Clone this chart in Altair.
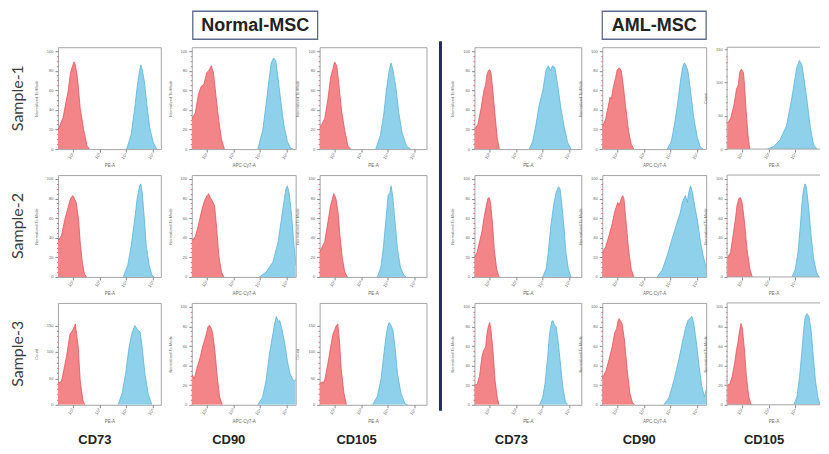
import altair as alt
import pandas as pd

# ---------------- data ----------------
# x = log10 fluorescence intensity, y = % of mode (or cell count)
N1_CD73_NEG = [(1.45,19),(1.64,32),(1.83,59),(1.92,78),(2.00,85),(2.05,89),(2.10,86),(2.18,73),(2.28,42),(2.41,20),(2.54,3),(2.63,0)]
N1_CD73_POS = [(4.02,0),(4.19,15),(4.32,42),(4.41,63),(4.50,80),(4.55,86),(4.60,81),(4.68,69),(4.78,44),(4.88,22),(5.01,7),(5.14,0)]
N1_CD90_NEG = [(1.45,30),(1.58,37),(1.70,56),(1.80,64),(1.90,66),(2.01,78),(2.08,80),(2.18,85),(2.26,78),(2.36,53),(2.46,29),(2.56,10),(2.67,0)]
N1_CD90_POS = [(3.92,0),(4.10,19),(4.23,46),(4.33,69),(4.42,88),(4.51,93),(4.59,90),(4.66,76),(4.76,53),(4.89,25),(5.02,8),(5.14,1),(5.24,0)]
N1_CD105_NEG = [(1.45,21),(1.64,31),(1.76,51),(1.86,73),(1.94,81),(2.01,89),(2.09,85),(2.17,66),(2.27,39),(2.39,19),(2.51,3),(2.61,0)]
N1_CD105_POS = [(3.55,0),(3.72,14),(3.85,36),(3.94,59),(4.05,80),(4.12,88),(4.19,81),(4.30,63),(4.41,37),(4.53,17),(4.70,3),(4.85,0)]

N2_CD73_NEG = [(1.45,37),(1.58,42),(1.71,59),(1.83,71),(1.92,80),(2.00,83),(2.05,81),(2.13,76),(2.22,59),(2.28,36),(2.36,15),(2.44,3),(2.52,0)]
N2_CD73_POS = [(3.89,0),(4.06,12),(4.19,32),(4.32,59),(4.41,80),(4.50,93),(4.55,95),(4.60,86),(4.68,59),(4.75,32),(4.86,12),(4.96,2),(5.05,0)]
N2_CD90_NEG = [(1.45,37),(1.58,41),(1.70,53),(1.83,69),(1.93,78),(2.02,83),(2.08,85),(2.14,81),(2.21,78),(2.30,73),(2.37,53),(2.46,22),(2.56,5),(2.65,0)]
N2_CD90_POS = [(3.98,0),(4.23,5),(4.48,15),(4.68,36),(4.80,59),(4.89,76),(4.97,90),(5.02,93),(5.09,86),(5.18,63),(5.27,32),(5.35,12),(5.37,30)]
N2_CD105_NEG = [(1.45,25),(1.64,36),(1.76,56),(1.86,73),(1.94,81),(1.98,85),(2.06,80),(2.14,66),(2.21,42),(2.30,19),(2.39,5),(2.49,0)]
N2_CD105_POS = [(3.61,0),(3.74,10),(3.84,32),(3.93,59),(4.01,83),(4.08,86),(4.12,93),(4.18,83),(4.27,56),(4.36,29),(4.47,10),(4.59,2),(4.68,0)]

N3_CD73_NEG = [(1.45,41),(1.58,44),(1.77,91),(1.90,134),(2.00,141),(2.10,153),(2.21,109),(2.28,47),(2.38,9),(2.45,0)]
N3_CD73_POS = [(3.70,0),(3.85,22),(3.98,59),(4.11,109),(4.21,134),(4.32,150),(4.37,147),(4.44,141),(4.52,138),(4.60,109),(4.70,59),(4.83,19),(4.96,0)]
N3_CD90_NEG = [(1.45,31),(1.55,27),(1.64,37),(1.77,49),(1.85,59),(1.93,66),(2.00,73),(2.06,80),(2.12,81),(2.18,78),(2.23,73),(2.31,56),(2.40,29),(2.49,8),(2.59,0)]
N3_CD90_POS = [(3.92,0),(4.10,8),(4.23,25),(4.36,53),(4.46,69),(4.55,83),(4.61,90),(4.68,85),(4.74,86),(4.83,76),(4.93,62),(5.02,45),(5.12,32),(5.22,26),(5.30,24),(5.37,28)]
N3_CD105_NEG = [(1.45,41),(1.63,44),(1.76,78),(1.86,109),(1.95,134),(2.01,141),(2.07,150),(2.13,153),(2.19,122),(2.26,66),(2.36,22),(2.45,0)]
N3_CD105_POS = [(3.43,0),(3.61,16),(3.74,47),(3.84,91),(3.93,128),(3.99,147),(4.05,156),(4.12,150),(4.19,141),(4.27,109),(4.36,59),(4.49,22),(4.64,2),(4.74,0)]

A1_CD73_NEG = [(1.45,20),(1.58,25),(1.70,42),(1.80,59),(1.87,66),(1.92,76),(1.97,80),(2.02,81),(2.07,78),(2.14,59),(2.23,32),(2.30,12),(2.38,0)]
A1_CD73_POS = [(3.50,0),(3.63,8),(3.75,25),(3.88,46),(4.00,59),(4.13,81),(4.21,85),(4.29,80),(4.37,85),(4.46,83),(4.56,66),(4.68,42),(4.81,22),(4.93,7),(5.06,0)]
A1_CD90_NEG = [(1.45,22),(1.58,31),(1.66,42),(1.74,53),(1.79,51),(1.86,63),(1.95,73),(2.01,81),(2.09,83),(2.16,80),(2.23,66),(2.33,42),(2.43,19),(2.53,5),(2.63,0)]
A1_CD90_POS = [(3.88,0),(4.03,8),(4.15,25),(4.28,49),(4.37,69),(4.45,83),(4.52,88),(4.57,86),(4.65,80),(4.75,59),(4.87,32),(5.00,12),(5.12,2),(5.22,0)]
A1_CD105_NEG = [(1.45,37),(1.59,47),(1.71,67),(1.80,90),(1.87,97),(1.92,115),(1.98,120),(2.06,115),(2.10,97),(2.16,57),(2.25,12),(2.30,0)]
A1_CD105_POS = [(2.95,0),(3.20,4),(3.43,14),(3.67,35),(3.85,72),(3.97,102),(4.05,122),(4.15,133),(4.24,127),(4.32,107),(4.44,72),(4.56,32),(4.68,7),(4.80,0)]

A2_CD73_NEG = [(1.45,20),(1.55,25),(1.64,36),(1.73,46),(1.80,59),(1.87,69),(1.95,80),(2.00,81),(2.05,76),(2.12,56),(2.19,29),(2.28,8),(2.37,0)]
A2_CD73_POS = [(4.00,0),(4.13,8),(4.21,25),(4.31,53),(4.41,73),(4.50,86),(4.59,92),(4.65,90),(4.71,76),(4.79,53),(4.87,25),(4.96,8),(5.06,0)]
A2_CD90_NEG = [(1.45,24),(1.58,31),(1.70,42),(1.82,54),(1.91,66),(1.99,73),(2.03,76),(2.08,73),(2.16,80),(2.21,83),(2.26,80),(2.33,59),(2.43,29),(2.53,8),(2.63,0)]
A2_CD90_POS = [(3.50,0),(3.69,7),(3.88,22),(4.06,39),(4.25,56),(4.37,66),(4.44,76),(4.50,80),(4.56,83),(4.63,76),(4.68,86),(4.75,93),(4.82,86),(4.90,73),(5.00,59),(5.12,36),(5.24,19),(5.35,8),(5.37,8)]
A2_CD105_NEG = [(1.45,19),(1.58,25),(1.67,42),(1.76,59),(1.82,73),(1.89,80),(1.95,81),(2.01,76),(2.10,56),(2.19,29),(2.30,8),(2.39,0)]
A2_CD105_POS = [(3.88,0),(4.00,8),(4.10,25),(4.19,53),(4.25,76),(4.31,90),(4.36,95),(4.41,92),(4.49,73),(4.59,42),(4.68,19),(4.79,5),(4.88,0)]

A3_CD73_NEG = [(1.45,20),(1.55,21),(1.64,29),(1.73,49),(1.80,56),(1.87,59),(1.92,73),(1.97,80),(2.02,84),(2.07,76),(2.15,53),(2.22,25),(2.30,8),(2.37,0)]
A3_CD73_POS = [(3.88,0),(4.00,7),(4.09,22),(4.19,49),(4.26,73),(4.34,85),(4.39,86),(4.44,81),(4.50,80),(4.56,69),(4.65,46),(4.75,19),(4.85,3),(4.93,0)]
A3_CD90_NEG = [(1.45,27),(1.58,34),(1.70,46),(1.82,59),(1.91,73),(1.99,78),(2.03,85),(2.08,88),(2.14,85),(2.19,83),(2.28,66),(2.38,36),(2.48,12),(2.58,2),(2.66,0)]
A3_CD90_POS = [(3.75,0),(3.94,7),(4.13,25),(4.31,46),(4.44,63),(4.56,78),(4.65,86),(4.72,88),(4.80,90),(4.87,83),(4.97,63),(5.07,39),(5.17,19),(5.27,8),(5.37,19)]
A3_CD105_NEG = [(1.45,20),(1.55,21),(1.64,29),(1.73,42),(1.80,56),(1.85,63),(1.92,76),(1.97,83),(2.02,78),(2.10,56),(2.17,29),(2.26,8),(2.35,0)]
A3_CD105_POS = [(3.94,0),(4.06,8),(4.16,29),(4.25,56),(4.31,76),(4.37,90),(4.44,93),(4.51,90),(4.59,76),(4.66,53),(4.75,25),(4.84,8),(4.93,0)]

GROUPS = ["Normal-MSC", "AML-MSC"]
SAMPLES = ["Sample-1", "Sample-2", "Sample-3"]
MARKERS = ["CD73", "CD90", "CD105"]
X_TITLES = {"CD73": "PE-A", "CD90": "APC-Cy7-A", "CD105": "PE-A"}
X_TICKS = [2, 3, 4, 5]
PCT_TICKS = [0, 5, 10, 15, 20, 25, 30, 35, 40, 45, 50, 55, 60, 65, 70, 75, 80, 85, 90, 95, 100]
COUNT_TICKS = [0, 10, 20, 30, 40, 50, 60, 70, 80, 90, 100, 110, 120, 130, 140, 150]

CURVES = {
    ("Normal-MSC", 0): [(N1_CD73_NEG, N1_CD73_POS), (N1_CD90_NEG, N1_CD90_POS), (N1_CD105_NEG, N1_CD105_POS)],
    ("Normal-MSC", 1): [(N2_CD73_NEG, N2_CD73_POS), (N2_CD90_NEG, N2_CD90_POS), (N2_CD105_NEG, N2_CD105_POS)],
    ("Normal-MSC", 2): [(N3_CD73_NEG, N3_CD73_POS), (N3_CD90_NEG, N3_CD90_POS), (N3_CD105_NEG, N3_CD105_POS)],
    ("AML-MSC", 0): [(A1_CD73_NEG, A1_CD73_POS), (A1_CD90_NEG, A1_CD90_POS), (A1_CD105_NEG, A1_CD105_POS)],
    ("AML-MSC", 1): [(A2_CD73_NEG, A2_CD73_POS), (A2_CD90_NEG, A2_CD90_POS), (A2_CD105_NEG, A2_CD105_POS)],
    ("AML-MSC", 2): [(A3_CD73_NEG, A3_CD73_POS), (A3_CD90_NEG, A3_CD90_POS), (A3_CD105_NEG, A3_CD105_POS)],
}
# panels with a cell-count y axis instead of "% of mode"
COUNT_PANELS = {("Normal-MSC", 2, 0): 193, ("Normal-MSC", 2, 2): 193, ("AML-MSC", 0, 2): 153}

# ---------------- style / layout ----------------
RED_FILL, RED_LINE = "#f38487", "#e2545e"
BLUE_FILL, BLUE_LINE = "#8fd1ea", "#5ab3da"
FRAME = "#a5a5a5"
DECADES_PER_PX = 3.92 / 105
ROW_H = 102
PANEL_W = {("Normal-MSC", 0): 103, ("Normal-MSC", 1): 104, ("Normal-MSC", 2): 107,
           ("AML-MSC", 0): 107, ("AML-MSC", 1): 104, ("AML-MSC", 2): 93}
LABEL_W = 50
GAPS = [31, 24, 48, 21, 21]

one = pd.DataFrame({"k": [0]})


def area(points, fill, line, xdom, ymax, yticks, major, ytitle, xtitle):
    df = pd.DataFrame(points, columns=["x", "y"])
    return alt.Chart(df).mark_area(
        interpolate="linear", color=fill, opacity=1, clip=True,
        line=alt.OverlayMarkDef(color=line, strokeWidth=0.8),
    ).encode(
        x=alt.X("x:Q", scale=alt.Scale(domain=xdom, nice=False, zero=False),
                axis=alt.Axis(values=X_TICKS, grid=False, domain=False,
                              labelExpr="'10' + ['\u2070','\u00b9','\u00b2','\u00b3','\u2074','\u2075'][datum.value]",
                              labelAngle=-55, labelFontSize=4.5, labelColor="#666",
                              labelPadding=1, tickSize=3, tickColor="#888",
                              title=xtitle, titleFontSize=4.5, titleFontWeight="normal",
                              titleColor="#666", titlePadding=3)),
        y=alt.Y("y:Q", scale=alt.Scale(domain=[0, ymax], nice=False),
                axis=alt.Axis(values=yticks, grid=False, domain=False,
                              labelExpr=f"datum.value % {major} === 0 ? datum.label : ''",
                              labelFontSize=4, labelColor="#666", labelPadding=2,
                              tickSize={"condition": {"test": f"datum.value % {major} === 0", "value": 3}, "value": 1.5},
                              tickColor={"condition": {"test": f"datum.value % {major} === 0", "value": "#888"}, "value": "#e5646c"},
                              title=ytitle, titleFontSize=4, titleFontWeight="normal",
                              titleColor="#666", titlePadding=8)),
    )


def panel(group, row, col):
    neg, pos = CURVES[(group, row)][col]
    marker = MARKERS[col]
    ymax = COUNT_PANELS.get((group, row, col))
    if ymax:
        yticks, major, ytitle = COUNT_TICKS, 50, "Count"
    else:
        ymax, yticks, major, ytitle = 104, PCT_TICKS, 20, "Normalized To Mode"
    w = PANEL_W[(group, col)]
    xdom = [1.45, 1.45 + DECADES_PER_PX * w]
    layers = [area(neg, RED_FILL, RED_LINE, xdom, ymax, yticks, major, ytitle, X_TITLES[marker]),
              area(pos, BLUE_FILL, BLUE_LINE, xdom, ymax, yticks, major, ytitle, X_TITLES[marker])]
    cut = group == "AML-MSC" and col == 2   # panel runs off the right edge of the figure
    if cut:
        for enc in (dict(x=alt.value(0), y=alt.value(0), y2=alt.value(ROW_H)),
                    dict(x=alt.value(0), x2=alt.value(w), y=alt.value(0)),
                    dict(x=alt.value(0), x2=alt.value(w), y=alt.value(ROW_H))):
            layers.append(alt.Chart(one).mark_rule(color=FRAME, strokeWidth=1).encode(**enc))
    if row == 0 and col == 1:
        bw = 125 if group == "Normal-MSC" else 104
        bx = 1 if group == "Normal-MSC" else 0
        layers.append(alt.Chart(one).mark_rect(fill="white", stroke="#5f6b8e", strokeWidth=1.3).encode(
            x=alt.value(bx), x2=alt.value(bx + bw), y=alt.value(-36), y2=alt.value(-8)))
        layers.append(alt.Chart(pd.DataFrame({"t": [group]})).mark_text(
            font="Liberation Sans", fontSize=18, fontWeight="bold", color="#222",
            align="center", baseline="middle").encode(
            text="t:N", x=alt.value(bx + bw / 2), y=alt.value(-21.5)))
    if row == 2:
        layers.append(alt.Chart(pd.DataFrame({"t": [marker]})).mark_text(
            font="Liberation Sans", fontSize=13, fontWeight="bold", color="#222",
            align="center", baseline="middle").encode(
            text="t:N", x=alt.value(37), y=alt.value(ROW_H + 35)))
    view = alt.ViewBackground(stroke=None) if cut else alt.ViewBackground(stroke=FRAME, strokeWidth=1)
    return alt.layer(*layers).properties(width=w, height=ROW_H, view=view)


def spacer(w, divider=False):
    if divider:
        ch = alt.Chart(one).mark_rule(color="#252c5c", strokeWidth=3).encode(
            x=alt.value(14), y=alt.value(-6), y2=alt.value(364))
    else:
        ch = alt.Chart(one).mark_point(opacity=0, size=1).encode(x=alt.value(0), y=alt.value(0))
    return ch.properties(width=w, height=ROW_H, view=alt.ViewBackground(stroke=None))


def row_label(text):
    return alt.Chart(pd.DataFrame({"t": [text]})).mark_text(
        font="Lato", fontSize=16, color="#3c3c3c", angle=270,
        align="center", baseline="middle").encode(
        text="t:N", x=alt.value(10), y=alt.value(ROW_H / 2)
    ).properties(width=LABEL_W, height=ROW_H,
                 view=alt.ViewBackground(stroke=None, fill="white"))


cells = []
for r, sample in enumerate(SAMPLES):
    cells.append(row_label(sample))
    cells.append(panel("Normal-MSC", r, 0))
    cells.append(spacer(GAPS[0]))
    cells.append(panel("Normal-MSC", r, 1))
    cells.append(spacer(GAPS[1]))
    cells.append(panel("Normal-MSC", r, 2))
    cells.append(spacer(GAPS[2], divider=(r == 0)))
    cells.append(panel("AML-MSC", r, 0))
    cells.append(spacer(GAPS[3]))
    cells.append(panel("AML-MSC", r, 1))
    cells.append(spacer(GAPS[4]))
    cells.append(panel("AML-MSC", r, 2))

chart = alt.concat(*cells, columns=12, spacing={"row": 26, "column": 0}, bounds="flush").properties(
    padding={"top": 1, "left": 0, "right": 0, "bottom": 0}
).configure_view(stroke=None).configure(background="white")

chart.save("out.html", embed_options={"renderer": "svg", "actions": False})
